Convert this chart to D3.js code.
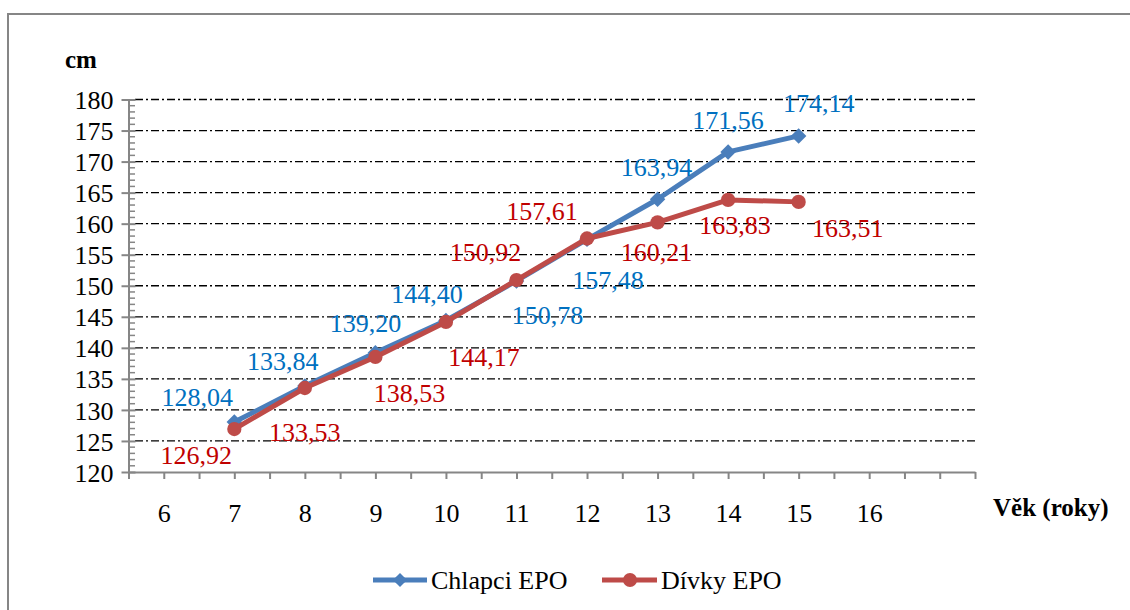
<!DOCTYPE html>
<html>
<head>
<meta charset="utf-8">
<script src="https://cdn.jsdelivr.net/npm/d3@7"></script>
<style>
  body { margin: 0; background: #fff; }
  svg { display: block; }
</style>
</head>
<body>
<div id="chart"></div>
<script>
// data
const ages = [7, 8, 9, 10, 11, 12, 13, 14, 15];
const chlapci = [128.04, 133.84, 139.20, 144.40, 150.78, 157.48, 163.94, 171.56, 174.14];
const divky = [126.92, 133.53, 138.53, 144.17, 150.92, 157.61, 160.21, 163.83, 163.51];
const xTickLabels = [6, 7, 8, 9, 10, 11, 12, 13, 14, 15, 16];
const yTicks = [120, 125, 130, 135, 140, 145, 150, 155, 160, 165, 170, 175, 180];

// label offsets (manual placement as in original)
const blueOff = [[-37,-25],[-22,-25],[-10,-30],[-19,-27],[31,34],[21,41],[-1,-32],[0,-32],[20,-33]];
const redOff = [[-38,26],[0,44],[34,36],[38,35],[-31,-28],[-45,-28],[-1,30],[7,25],[49,26]];

const width = 1130, height = 610;
const blue = "#4a7ebb", red = "#be4b48";
const blueText = "#0070c0", redText = "#c00000";
const serif = "'Liberation Serif', 'Times New Roman', serif";
const fontSize = "26px";

const svg = d3.select("#chart").append("svg")
    .attr("width", width).attr("height", height)
    .style("font-family", serif);

// outer frame
svg.append("rect")
    .attr("x", 8).attr("y", 14)
    .attr("width", 1140).attr("height", 620)
    .attr("fill", "none").attr("stroke", "#868686").attr("stroke-width", 2);

const x = d3.scaleLinear().domain([5.5, 17.5]).range([128.5, 975]);
const y = d3.scaleLinear().domain([120, 180]).range([472, 99.5]);

// gridlines
svg.append("g").selectAll("line")
    .data(yTicks.slice(1))
    .enter().append("line")
    .attr("x1", 135).attr("x2", 975)
    .attr("y1", d => y(d)).attr("y2", d => y(d))
    .attr("stroke", "#000").attr("stroke-width", 1.3)
    .attr("stroke-dasharray", "8,3,2,3");

// y axis
const yAxis = svg.append("g")
    .attr("transform", "translate(128.5,0)")
    .call(d3.axisLeft(y).tickValues(yTicks).tickSize(7).tickSizeOuter(0).tickPadding(8));
yAxis.select(".domain").attr("stroke", "#868686").attr("stroke-width", 2);
yAxis.selectAll(".tick line").attr("stroke", "#868686").attr("stroke-width", 2).attr("x2", 7).attr("x1", -7);
yAxis.selectAll("text")
    .style("font-family", serif).style("font-size", fontSize)
    .attr("fill", "#000").attr("dy", "0.35em");

// minor y ticks
svg.append("g").selectAll("line")
    .data(d3.range(121, 180).filter(v => v % 5 !== 0))
    .enter().append("line")
    .attr("x1", 128.5).attr("x2", 135)
    .attr("y1", d => y(d)).attr("y2", d => y(d))
    .attr("stroke", "#868686").attr("stroke-width", 1.5);

// x axis
const xAxis = svg.append("g")
    .attr("transform", "translate(0,472)")
    .call(d3.axisBottom(x).tickValues(d3.range(5.5, 17.51, 0.5)).tickSize(7).tickSizeOuter(0)
        .tickFormat(d => xTickLabels.includes(d) ? d : ""));
xAxis.select(".domain").attr("stroke", "#868686").attr("stroke-width", 2);
xAxis.selectAll(".tick line").attr("stroke", "#868686").attr("stroke-width", 2);
xAxis.selectAll("text")
    .style("font-family", serif).style("font-size", fontSize)
    .attr("fill", "#000").attr("y", 32);

// axis titles
svg.append("text").attr("x", 65).attr("y", 68)
    .style("font-size", "25px").style("font-weight", "bold").text("cm");
svg.append("text").attr("x", 993).attr("y", 516)
    .style("font-size", "25px").style("font-weight", "bold").text("Věk (roky)");

// lines
const line = d3.line().x((d, i) => x(ages[i])).y(d => y(d));

function drawSeries(vals, color, shape) {
    svg.append("path").datum(vals)
        .attr("d", line).attr("fill", "none")
        .attr("stroke", color).attr("stroke-width", 5).attr("stroke-linejoin", "round");
    svg.append("g").selectAll("path")
        .data(vals).enter().append("path")
        .attr("d", d3.symbol().type(shape).size(shape === d3.symbolCircle ? 160 : 120))
        .attr("fill", color)
        .attr("transform", (d, i) => `translate(${x(ages[i])},${y(d)})` + (shape === d3.symbolSquare ? " rotate(45)" : ""));
}
drawSeries(chlapci, blue, d3.symbolSquare);
drawSeries(divky, red, d3.symbolCircle);

// data labels
function drawLabels(vals, color, off) {
    svg.append("g").selectAll("text")
        .data(vals).enter().append("text")
        .attr("x", (d, i) => x(ages[i]) + off[i][0])
        .attr("y", (d, i) => y(d) + off[i][1])
        .attr("dy", "0.35em")
        .attr("text-anchor", "middle")
        .attr("fill", color)
        .style("font-size", fontSize)
        .text(d => d.toFixed(2).replace(".", ","));
}
drawLabels(chlapci, blueText, blueOff);
drawLabels(divky, redText, redOff);

// legend
const legend = svg.append("g").attr("transform", "translate(0,580)");
legend.append("line").attr("x1", 373).attr("x2", 427).attr("stroke", blue).attr("stroke-width", 5);
legend.append("path").attr("d", d3.symbol().type(d3.symbolSquare).size(100))
    .attr("transform", "translate(400,0) rotate(45)").attr("fill", blue);
legend.append("text").attr("x", 431).attr("dy", "0.35em").style("font-size", fontSize).text("Chlapci EPO");

legend.append("line").attr("x1", 602).attr("x2", 657).attr("stroke", red).attr("stroke-width", 5);
legend.append("circle").attr("cx", 630).attr("r", 7).attr("fill", red);
legend.append("text").attr("x", 661).attr("dy", "0.35em").style("font-size", fontSize).text("Dívky EPO");
</script>
</body>
</html>
